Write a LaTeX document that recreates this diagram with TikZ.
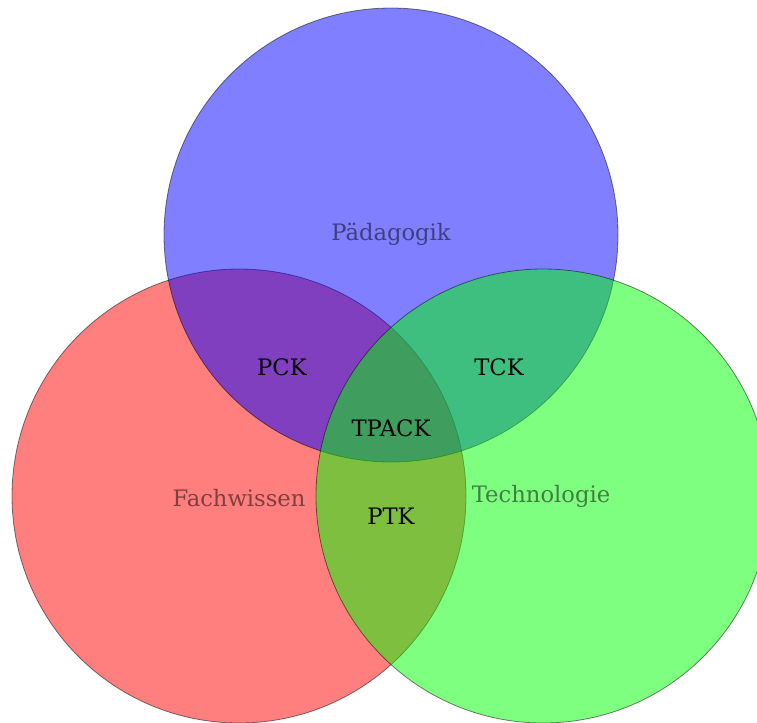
\documentclass[tikz,border=0pt]{standalone}
\usepackage{fontspec}
\setmainfont{DejaVu Serif}
\begin{document}
\begin{tikzpicture}[x=0.375pt,y=-0.375pt,
  venn/.style={draw=black,draw opacity=0.5,line width=0.3pt,fill opacity=0.5},
  lbl/.style={font=\fontsize{8.5}{10}\selectfont,inner sep=0pt},
  cirlbl/.style={lbl,text opacity=0.5}]
\useasboundingbox (0,0) rectangle (757,722);
\begin{scope}
\clip (0,0) rectangle (757,722);
\node[venn,fill=red,circle,minimum size=170.25pt,inner sep=0pt] (fach) at (239,496) {};
\node[venn,fill=blue,circle,minimum size=170.25pt,inner sep=0pt] (paed) at (391,235) {};
\node[venn,fill=green,circle,minimum size=170.25pt,inner sep=0pt] (tech) at (543,496) {};
\end{scope}
\node[cirlbl] (lp) at (391,234) {Pädagogik};
\node[cirlbl] (lf) at (239,498) {Fachwissen};
\node[cirlbl] (lt) at (541,496) {Technologie};
\node[lbl] (pck) at (282,367) {PCK};
\node[lbl] (tck) at (499,367) {TCK};
\node[lbl] (tpack) at (391,428) {TPACK};
\node[lbl] (ptk) at (391,516) {PTK};
\end{tikzpicture}
\end{document}
